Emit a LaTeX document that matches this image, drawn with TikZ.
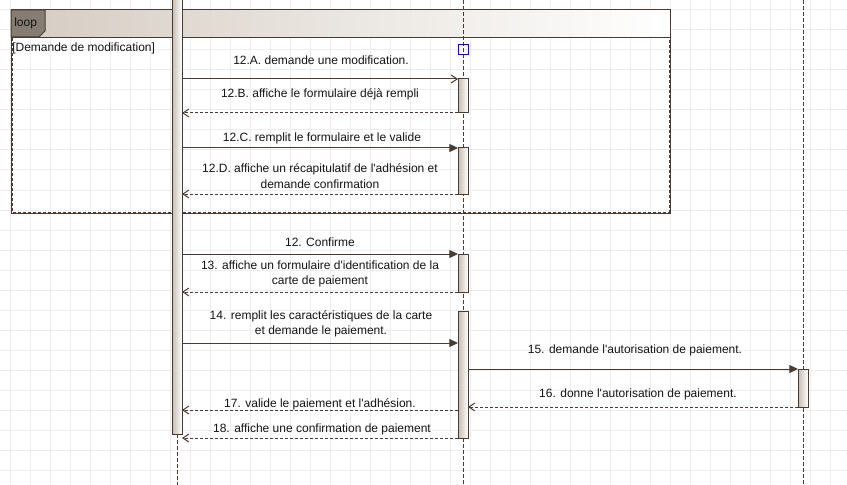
\documentclass[tikz,border=0pt]{standalone}
\usepackage{fontspec}
\setmainfont{Liberation Sans}[Ligatures=TeXOff]
\usetikzlibrary{arrows.meta}

\definecolor{linec}{HTML}{463C35}
\definecolor{barc}{HTML}{C6BCB1}
\definecolor{headc}{HTML}{D5CCC2}
\definecolor{tagc}{HTML}{857C72}
\definecolor{gridc}{HTML}{EDEDED}
\definecolor{textc}{HTML}{141414}

\begin{document}
\begin{tikzpicture}[x=0.75pt, y=-0.75pt,
    font=\fontsize{9}{11.6}\selectfont,
    gridline/.style={draw=gridc, line width=0.75pt},
    life/.style={draw=linec, line width=0.75pt, dash pattern=on 3pt off 1.5pt},
    actbar/.style={draw=linec, line width=0.75pt, left color=barc, right color=white,
        minimum width=7.5pt, inner sep=0pt, outer sep=0pt},
    call/.style={draw=linec, line width=0.75pt, -{Straight Barb[length=4.5pt, width=6pt]}},
    sync/.style={draw=linec, line width=0.75pt, -{Triangle[length=6.5pt, width=6pt]}},
    reply/.style={call, dash pattern=on 2.25pt off 1.5pt},
    lbl/.style={text=textc, align=center, inner sep=0pt}]

    \useasboundingbox (0,0) rectangle (847,485);
    \fill[white] (0,0) rectangle (847,485);

    % grid
    \foreach \gx in {10,30,...,830} \draw[gridline] (\gx,0) -- (\gx,485);
    \foreach \gy in {10,30,...,470} \draw[gridline] (0,\gy) -- (847,\gy);

    % loop frame
    \draw[linec, line width=0.75pt, left color=headc, right color=white] (11,10) rectangle (670,38);
    \draw[linec, line width=0.75pt] (11,10) rectangle (670,213);
    \draw[linec, line width=0.75pt, dash pattern=on 2.25pt off 1.5pt] (12,38) rectangle (669,212);
    \draw[linec, fill=tagc, line width=0.75pt] (11,10) -- (45,10) -- (45,31) -- (39,37) -- (11,37) -- cycle;
    \node[lbl, anchor=west] (looptag) at (14,23.5) {loop};
    \node[lbl, anchor=west] (guard) at (12,48) {[Demande de modification]};

    % lifelines
    \coordinate (ll2) at (463,0);
    \coordinate (ll3) at (803,0);
    \coordinate (bottom) at (0,485);
    \draw[life] (ll2) -- (ll2 |- bottom);
    \draw[life] (ll3) -- (ll3 |- bottom);

    \newcommand{\actbar}[4]{
        \node[actbar, minimum height={(#4-#3)*0.75pt}, anchor=north] (#1) at (#2, #3) {};
    }

    \actbar{a1}{177}{-5}{434}
    \actbar{b1}{463}{79}{113}
    \actbar{b2}{463}{148}{194}
    \actbar{b3}{463}{254}{292}
    \actbar{b4}{463}{311}{438}
    \actbar{c1}{803}{369}{407}

    \draw[life] (a1.south) -- (a1.south |- bottom);

    % selection handle
    \draw[blue, line width=0.75pt] (458,45) rectangle (468,55);

    % messages
    \draw[call] (a1.east |- b1.north) -- (b1.north west);
    \draw[reply] (b1.south west) -- (a1.east |- b1.south);
    \draw[sync] (a1.east |- b2.north) -- (b2.north west);
    \draw[reply] (b2.south west) -- (a1.east |- b2.south);
    \draw[sync] (a1.east |- b3.north) -- (b3.north west);
    \draw[reply] (b3.south west) -- (a1.east |- b3.south);
    \coordinate (m14) at (0,343);
    \draw[sync] (a1.east |- m14) -- (b4.west |- m14);
    \draw[sync] (b4.east |- c1.north) -- (c1.north west);
    \draw[reply] (c1.south west) -- (b4.east |- c1.south);
    \coordinate (m17) at (0,410);
    \draw[reply] (b4.west |- m17) -- (a1.east |- m17);
    \draw[reply] (b4.south west) -- (a1.east |- b4.south);

    \node[lbl] (l12a) at (321,60) {12.A. demande une modification.};
    \node[lbl] (l12b) at (320,94) {12.B. affiche le formulaire déjà rempli};
    \node[lbl] (l12c) at (322,138) {12.C. remplit le formulaire et le valide};
    \node[lbl] (l12d) at (320,176) {12.D. affiche un récapitulatif de l'adhésion et\\demande confirmation};
    \node[lbl] (l12) at (320,242) {12. Confirme};
    \node[lbl] (l13) at (320,274) {13. affiche un formulaire d'identification de la\\carte de paiement};
    \node[lbl] (l14) at (321,324) {14. remplit les caractéristiques de la carte\\et demande le paiement.};
    \node[lbl] (l15) at (635,350) {15. demande l'autorisation de paiement.};
    \node[lbl] (l16) at (638,394) {16. donne l'autorisation de paiement.};
    \node[lbl] (l17) at (320,404) {17. valide le paiement et l'adhésion.};
    \node[lbl] (l18) at (322,429) {18. affiche une confirmation de paiement};
\end{tikzpicture}
\end{document}
